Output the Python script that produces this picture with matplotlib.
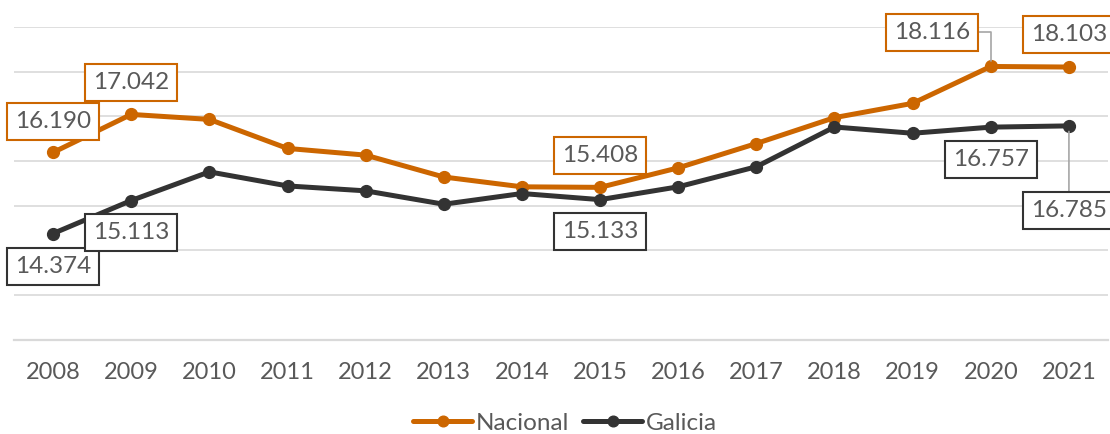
import matplotlib
matplotlib.use("Agg")
import matplotlib.pyplot as plt

plt.rcParams['font.family'] = ['Lato', 'DejaVu Sans']

years = ['2008', '2009', '2010', '2011', '2012', '2013', '2014',
         '2015', '2016', '2017', '2018', '2019', '2020', '2021']
nacional = [16.190, 17.042, 16.93, 16.28, 16.13, 15.64, 15.42,
            15.408, 15.845, 16.39, 16.97, 17.29, 18.116, 18.103]
galicia = [14.374, 15.113, 15.755, 15.44, 15.33, 15.03, 15.27,
           15.133, 15.42, 15.87, 16.76, 16.62, 16.757, 16.785]

# labelled points: (index, label, offset in pixels)
nac_labels = [(0, '16.190', (0, 31)), (1, '17.042', (0, 32)), (7, '15.408', (0, 32)),
              (12, '18.116', (-59, 34)), (13, '18.103', (0, 33))]
gal_labels = [(0, '14.374', (0, -33)), (1, '15.113', (0, -32)), (7, '15.133', (0, -32)),
              (12, '16.757', (0, -32)), (13, '16.785', (0, -85))]

c_nac = '#CC6600'
c_gal = '#333333'
c_txt = '#595959'
c_grid = '#D9D9D9'

fig = plt.figure(figsize=(11.1, 4.34), dpi=100)
ax = fig.add_axes([14 / 1110, 1 - 339.5 / 434, 1094 / 1110, 312.5 / 434])

x = range(len(years))
ax.plot(x, nacional, color=c_nac, lw=3.6, marker='o', ms=8.5, label='Nacional',
        solid_capstyle='round', zorder=3)
ax.plot(x, galicia, color=c_gal, lw=3.6, marker='o', ms=8.5, label='Galicia',
        solid_capstyle='round', zorder=3)

ax.set_xlim(-0.5, len(years) - 0.5)
ax.set_ylim(12, 19)
ax.set_yticks(range(12, 20))
ax.yaxis.grid(True, color=c_grid, lw=1.2)
ax.set_axisbelow(True)
ax.tick_params(axis='y', left=False, labelleft=False)
ax.tick_params(axis='x', length=0, pad=16, labelsize=17, labelcolor=c_txt)
ax.set_xticks(list(x))
ax.set_xticklabels(years)
for s in ['top', 'right', 'left']:
    ax.spines[s].set_visible(False)
ax.spines['bottom'].set_color(c_grid)
ax.spines['bottom'].set_linewidth(1.6)


def label(series, items, color):
    for i, txt, off in items:
        arrow = None
        if off[0] != 0:
            arrow = dict(arrowstyle='-', color='#A6A6A6', lw=1.2, shrinkA=0, shrinkB=4,
                         connectionstyle='angle,angleA=0,angleB=90,rad=0')
        elif abs(off[1]) > 50:
            arrow = dict(arrowstyle='-', color='#A6A6A6', lw=1.2, shrinkA=0, shrinkB=4)
        ax.annotate(txt, (i, series[i]), xytext=off, textcoords='offset pixels',
                    ha='center', va='center', fontsize=17.5, color=c_txt,
                    bbox=dict(boxstyle='square,pad=0.33', fc='white', ec=color, lw=1.5),
                    arrowprops=arrow, annotation_clip=False, zorder=5)


label(nacional, nac_labels, c_nac)
label(galicia, gal_labels, c_gal)

fig.legend(loc='center', bbox_to_anchor=(565 / 1110, 1 - 423 / 434), ncol=2, frameon=False,
           fontsize=17.5, labelcolor=c_txt, handlelength=2.4, handletextpad=0.15,
           columnspacing=0.6, markerscale=0.9)

fig.savefig('out.png', dpi=100)
